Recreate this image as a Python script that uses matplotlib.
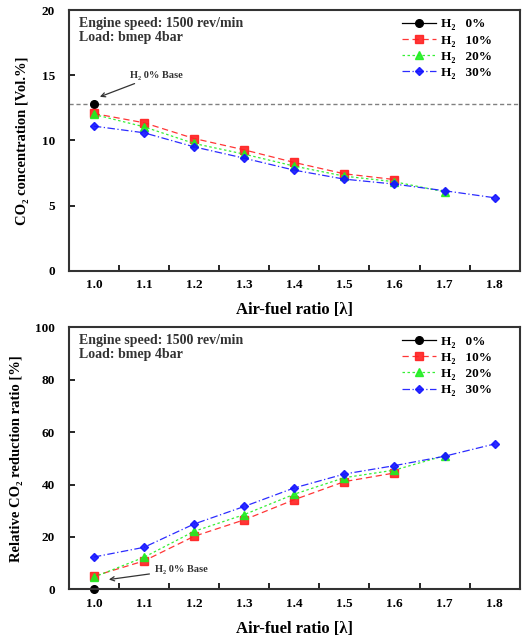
import numpy as np
import matplotlib
matplotlib.use('Agg')
import matplotlib.pyplot as plt
from matplotlib.ticker import MultipleLocator, FixedLocator

plt.rcParams['font.family'] = ['Liberation Serif', 'DejaVu Serif']
plt.rcParams['font.weight'] = 'bold'

lam = [1.0, 1.1, 1.2, 1.3, 1.4, 1.5, 1.6, 1.7, 1.8]
labels = ['H\u2082   0%', 'H\u2082   10%', 'H\u2082   20%', 'H\u2082   30%']

# CO2 concentration [Vol.%]
co2_h0 = [12.8]
co2_h10 = [12.07, 11.36, 10.15, 9.28, 8.31, 7.44, 7.0]
co2_h20 = [12.0, 11.05, 9.77, 8.95, 8.03, 7.26, 6.83, 6.06]
co2_h30 = [11.1, 10.59, 9.51, 8.64, 7.72, 7.03, 6.65, 6.14, 5.6]
co2_base = 12.8

# relative CO2 reduction ratio [%]
red_h0 = [0.0]
red_h10 = [5.0, 10.8, 20.2, 26.5, 34.2, 41.1, 44.4]
red_h20 = [4.6, 12.2, 22.1, 28.5, 36.3, 42.6, 45.5, 51.0]
red_h30 = [12.3, 16.0, 24.9, 31.6, 38.7, 44.0, 47.2, 50.8, 55.5]

styles = [
    dict(color='black', ls='-', marker='o', ms=5.5),
    dict(color='#ff2020', ls=(0, (5, 3)), marker='s', ms=6, alpha=0.9),
    dict(color='#20ee20', ls=(0, (2, 2)), marker='^', ms=6, alpha=0.9),
    dict(color='#1515ff', ls=(0, (6, 2, 1, 2)), marker='D', ms=4.5, alpha=0.9),
]

fig = plt.figure(figsize=(5.25, 6.37), dpi=100)
ax1 = fig.add_axes([0.131, 0.575, 0.859, 0.409])
ax2 = fig.add_axes([0.131, 0.075, 0.859, 0.411])


def setup(ax, series, ylim, ystep, ylabel):
    for ys, lab, st in zip(series, labels, styles):
        ax.plot(lam[:len(ys)], ys, lw=0.9, label=lab, **st)
    ax.set_xlim(0.95, 1.85)
    ax.set_ylim(*ylim)
    ax.xaxis.set_major_locator(FixedLocator(lam))
    ax.xaxis.set_minor_locator(FixedLocator([x + 0.05 for x in lam[:-1]]))
    ax.yaxis.set_major_locator(MultipleLocator(ystep))
    ax.tick_params(axis='x', which='major', length=0, pad=6, labelsize=9.5)
    ax.tick_params(axis='x', which='minor', direction='in', length=4, width=1.2)
    ax.tick_params(axis='y', direction='in', length=4, width=1.2, labelsize=9.5, pad=10)
    for lbl in ax.get_xticklabels() + ax.get_yticklabels():
        lbl.set_fontweight('bold')
    for s in ax.spines.values():
        s.set_linewidth(1.5)
        s.set_color('#333333')
    ax.set_xlabel('Air-fuel ratio [\u03bb]', fontsize=12, fontweight='bold', labelpad=8)
    ax.set_ylabel(ylabel, fontsize=10.5, fontweight='bold', labelpad=9)
    ax.text(0.022, 0.975, 'Engine speed: 1500 rev/min\nLoad: bmep 4bar',
            transform=ax.transAxes, ha='left', va='top', fontsize=10,
            fontweight='bold', color='#333333', linespacing=1.1)
    leg = ax.legend(loc='upper right', bbox_to_anchor=(0.96, 1.005),
                    frameon=False, fontsize=9.5, handlelength=2.6,
                    labelspacing=0.3, borderaxespad=0.3, handletextpad=0.4)
    for t in leg.get_texts():
        t.set_fontweight('bold')


setup(ax1, [co2_h0, co2_h10, co2_h20, co2_h30], (0, 20), 5,
      'CO\u2082 concentration [Vol.%]')
ax1.axhline(co2_base, color='gray', ls=(0, (3, 2)), lw=1.0, zorder=0)
ax1.annotate('H\u2082 0% Base', xy=(1.012, 13.35), xytext=(1.072, 15.0),
             fontsize=7.5, fontweight='bold', color='#333333', va='center',
             arrowprops=dict(arrowstyle='->', color='#333333', lw=0.9,
                             shrinkA=2, shrinkB=0))

setup(ax2, [red_h0, red_h10, red_h20, red_h30], (0, 100), 20,
      'Relative CO\u2082 reduction ratio [%]')
ax2.annotate('H\u2082 0% Base', xy=(1.03, 3.7), xytext=(1.122, 7.5),
             fontsize=7.5, fontweight='bold', color='#333333', va='center',
             arrowprops=dict(arrowstyle='->', color='#333333', lw=0.9,
                             shrinkA=2, shrinkB=0))
for ln in ax2.lines:
    ln.set_clip_on(False)

fig.savefig('out.png', dpi=100)
